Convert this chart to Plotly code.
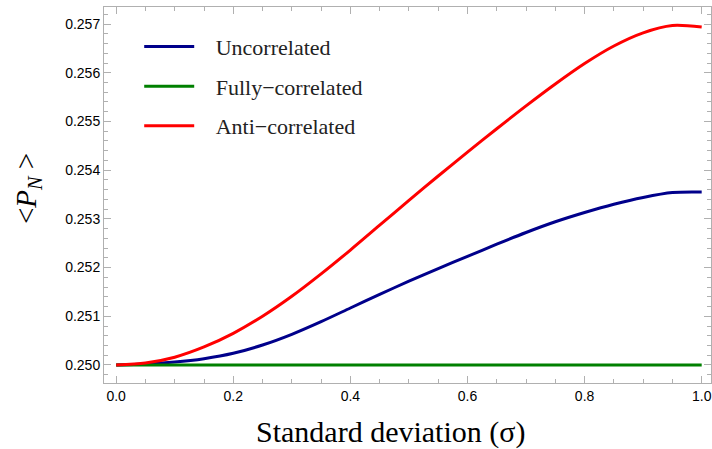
import plotly.graph_objects as go

sigma = [0.0, 0.05, 0.1, 0.15, 0.2, 0.25, 0.3, 0.35, 0.4, 0.45, 0.5, 0.55, 0.6, 0.65, 0.7, 0.75, 0.8, 0.85, 0.9, 0.95, 1.0]
uncorrelated = [0.25, 0.25002, 0.25006, 0.25013, 0.25024, 0.25041, 0.25063, 0.25089, 0.25117, 0.25145, 0.25172,
                0.25198, 0.25223, 0.25248, 0.25272, 0.25294, 0.25313, 0.25330, 0.25344, 0.25354, 0.25355]
fully = [0.25] * len(sigma)
anti = [0.25, 0.25004, 0.25016, 0.25037, 0.25065, 0.25100, 0.25141, 0.25187, 0.25236, 0.25287, 0.25338,
        0.25388, 0.25437, 0.25485, 0.25532, 0.25577, 0.25619, 0.25655, 0.25682, 0.25697, 0.25694]

fig = go.Figure()
fig.add_trace(go.Scatter(x=sigma, y=uncorrelated, mode="lines", name="\u00a0\u00a0\u00a0Uncorrelated", legendgroup="u",
                         line=dict(color="#00008B", width=3, shape="spline", smoothing=0.8)))
fig.add_trace(go.Scatter(x=sigma, y=fully, mode="lines", name="\u00a0\u00a0\u00a0Fully\u2212correlated", legendgroup="f",
                         line=dict(color="#008000", width=3)))
fig.add_trace(go.Scatter(x=sigma, y=anti, mode="lines", name="\u00a0\u00a0\u00a0Anti\u2212correlated", legendgroup="a",
                         line=dict(color="#FF0000", width=3, shape="spline", smoothing=0.8)))

axis_common = dict(showline=True, linecolor="#B0B0B0", linewidth=1, mirror="ticks",
                   ticks="inside", tickcolor="#B0B0B0", ticklen=7, showgrid=False, zeroline=False,
                   ticklabeloverflow="allow",
                   tickfont=dict(family="Liberation Sans, Arial", size=14, color="black"))

fig.update_xaxes(range=[-0.0208, 1.0159], tickvals=[0, 0.2, 0.4, 0.6, 0.8, 1.0],
                 ticktext=["0.0", "0.2", "0.4", "0.6", "0.8", "1.0"],
                 minor=dict(dtick=0.05, ticks="inside", ticklen=4, tickcolor="#B0B0B0"),
                 **axis_common)
fig.update_yaxes(range=[0.24963, 0.25735], tickvals=[0.250, 0.251, 0.252, 0.253, 0.254, 0.255, 0.256, 0.257],
                 ticktext=["0.250", "0.251", "0.252", "0.253", "0.254", "0.255", "0.256", "0.257"],
                 minor=dict(dtick=0.0002, ticks="inside", ticklen=4, tickcolor="#B0B0B0"),
                 **axis_common)

serif = "Liberation Serif, Times New Roman"
fig.add_annotation(text="Standard deviation (σ)", xref="paper", yref="paper", x=0.4728, y=0, yshift=-49,
                   xanchor="center", yanchor="middle", showarrow=False,
                   font=dict(family=serif, size=30, color="black"))
fig.add_annotation(text="&lt;<i>P</i><sub><i>N</i></sub> &gt;", xref="paper", yref="paper", x=-0.1252, y=0.516,
                   xanchor="center", yanchor="middle", textangle=-90, showarrow=False,
                   font=dict(family=serif, size=29, color="black"))

fig.update_layout(width=712, height=449, margin=dict(l=104, r=1, t=7, b=66),
                  plot_bgcolor="white", paper_bgcolor="white",
                  legend=dict(x=0.058, y=0.95, xanchor="left", yanchor="top",
                              font=dict(family=serif, size=22, color="#222"),
                              bgcolor="rgba(0,0,0,0)", tracegroupgap=8, itemwidth=50))

fig.write_html("out.html")
